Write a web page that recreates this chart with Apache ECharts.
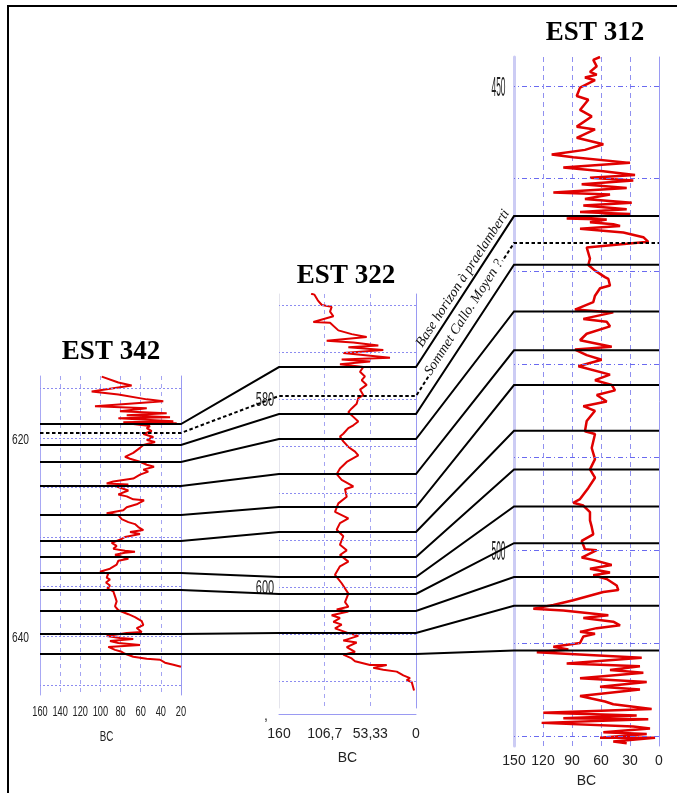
<!DOCTYPE html>
<html><head><meta charset="utf-8">
<script src="https://cdn.jsdelivr.net/npm/echarts@6/dist/echarts.min.js"></script>
<style>html,body{margin:0;padding:0;background:#fff}#c{width:677px;height:793px}</style>
</head><body><div id="c"></div>
<script>
// ---------- DATA ----------
const wellNames = ['EST 342', 'EST 322', 'EST 312'];

const bc342 = [98.7,82.2,69.0,108.7,82.2,54.0,37.6,105.4,54.0,80.6,34.2,73.9,30.9,82.2,27.6,77.3,24.3,67.4,50.8,54.0,49.1,57.4,47.5,54.0,45.8,57.4,60.7,67.4,75.6,70.6,60.7,54.0,46.8,57.4,52.5,60.7,67.4,87.2,93.8,72.3,83.9,72.3,82.2,73.9,67.4,56.7,64.0,73.9,77.3,93.8,82.2,78.9,72.3,65.7,62.4,57.4,70.6,60.7,75.6,78.9,88.8,83.9,87.2,75.6,65.7,75.6,85.5,72.3,82.2,83.9,90.5,100.4,92.2,93.8,90.5,94.5,90.5,93.2,87.2,85.5,83.9,85.5,82.2,72.3,65.7,59.0,57.4,64.0,59.0,73.9,93.8,80.6,67.4,90.5,82.2,60.7,92.2,85.5,78.9,75.6,67.4,54.0,40.8,35.9,27.6,20.0];
const depth342 = [613.8,614.4,614.7,615.3,615.6,616.1,616.3,616.8,617.0,617.3,617.5,617.7,617.9,618.0,618.3,618.4,618.5,618.6,618.8,619.0,619.3,619.6,619.9,620.2,620.4,620.7,621.0,621.5,621.9,622.1,622.4,622.7,622.9,623.2,623.4,623.7,624.1,624.4,624.6,624.7,624.9,625.3,625.7,625.9,626.2,626.3,626.7,627.0,627.3,627.6,627.8,628.2,628.5,628.7,629.0,629.3,629.5,629.7,630.0,630.2,630.6,630.9,631.2,631.4,631.5,631.6,631.8,632.2,632.4,632.8,633.2,633.5,633.7,634.1,634.3,634.6,634.9,635.2,635.5,636.0,636.5,637.0,637.4,637.8,638.1,638.5,638.9,639.2,639.6,639.7,640.0,640.2,640.3,640.5,640.7,640.9,641.1,641.4,641.6,641.8,642.1,642.3,642.4,642.7,642.9,643.1];

const bc322 = [122.5,118.6,114.7,110.0,98.5,100.4,96.5,119.9,100.4,90.7,75.1,57.6,104.3,73.2,44.0,79.0,38.2,84.9,30.4,86.8,53.7,88.8,61.5,65.4,59.6,63.4,57.6,65.4,61.5,67.4,69.3,75.1,79.0,73.2,67.4,73.2,79.0,84.9,88.8,84.9,79.0,71.2,67.4,65.4,80.9,88.8,92.6,86.8,73.2,82.9,80.9,90.7,94.6,79.0,88.8,92.6,84.9,88.8,80.9,88.8,79.0,88.8,94.6,86.8,79.0,82.9,79.0,92.6,79.0,98.5,88.8,96.5,86.8,94.6,79.0,67.4,84.9,69.3,80.9,71.2,84.9,75.1,71.2,53.7,34.2,49.9,38.2,22.5,14.8,7.0,10.9,5.0,2.3];
const depth322 = [568.8,568.9,569.5,570.0,570.2,570.7,571.2,571.8,571.9,572.7,573.1,573.4,573.8,574.0,574.3,574.5,574.8,575.1,575.6,575.8,576.0,576.3,576.6,577.1,577.6,578.0,578.5,579.0,579.6,579.9,580.5,581.0,581.4,581.9,582.4,582.8,583.1,583.7,584.0,584.5,585.1,585.6,586.0,586.2,586.7,587.4,588.0,588.6,589.3,589.6,590.4,591.1,592.0,592.7,593.2,593.9,594.6,595.5,596.1,596.6,597.3,597.8,598.7,599.6,600.7,601.6,602.1,602.4,602.6,603.0,603.3,603.7,604.0,604.4,604.9,605.2,605.7,605.9,606.4,606.9,607.2,607.6,607.9,608.3,608.3,608.6,608.8,609.0,609.4,609.7,609.9,610.1,611.0];

const bc312 = [61.0,68.0,64.4,71.4,64.4,76.6,66.2,81.7,85.1,73.1,81.7,69.6,85.1,66.2,85.1,57.6,76.6,111.0,88.7,30.0,99.0,57.6,24.8,71.4,26.6,80.0,33.4,109.3,50.7,76.6,28.2,78.3,33.4,81.7,30.0,95.5,54.1,71.4,47.3,40.3,81.7,36.9,16.2,11.1,33.4,74.8,71.4,73.1,66.2,55.9,52.4,50.7,61.0,66.2,68.0,86.9,47.3,78.3,54.1,50.7,74.8,81.7,48.9,86.9,74.8,59.3,83.4,50.7,66.2,48.9,45.5,64.4,54.1,78.3,66.2,74.8,76.6,66.2,69.6,66.2,71.4,66.2,73.1,81.7,88.7,78.3,71.4,71.4,69.6,68.0,80.0,76.6,64.4,80.0,66.2,48.9,71.4,50.7,68.0,54.1,43.8,42.1,57.6,88.7,109.3,130.0,99.0,52.4,78.3,47.3,40.3,64.4,81.7,66.2,78.3,81.7,109.3,93.8,126.4,17.9,95.5,19.7,50.7,16.2,81.7,12.7,61.0,19.7,81.7,55.9,47.3,7.6,119.7,23.1,99.0,11.1,121.4,26.6,9.3,57.6,12.7,61.0,4.1,47.3,33.4];
const depth312 = [446.9,447.2,447.9,448.5,448.8,449.1,449.4,450.2,451.1,451.5,452.6,453.3,454.4,454.7,455.6,456.3,456.9,457.4,457.7,458.3,458.8,459.2,459.6,459.9,460.2,460.6,461.0,461.5,461.7,462.2,462.6,462.9,463.3,463.6,463.8,464.3,464.4,464.7,464.9,465.1,465.4,465.8,466.3,466.8,467.0,467.4,468.6,469.3,469.9,470.6,470.8,471.5,471.8,472.6,473.3,474.1,474.4,475.1,475.4,475.9,476.7,477.4,478.1,478.4,479.0,479.5,480.2,481.1,481.7,482.2,482.8,483.3,484.0,484.5,485.0,486.1,487.2,487.5,489.0,490.2,491.3,492.2,493.3,494.5,494.9,495.2,495.9,496.8,497.5,498.3,499.0,499.9,500.0,500.8,501.1,501.6,502.0,502.4,502.7,503.1,503.8,504.3,504.5,505.4,505.9,506.3,506.5,507.0,507.3,507.7,508.1,508.4,508.8,509.0,509.3,510.0,510.4,510.7,511.0,511.6,512.2,512.5,512.9,513.2,513.8,514.2,514.7,515.0,515.7,516.3,516.6,517.1,517.5,517.8,518.1,518.2,518.6,519.0,519.2,519.6,519.8,520.2,520.2,520.6,520.8];

// correlation horizons (depth in each well)
const horizon342 = [618.59,619.49,620.71,622.42,624.85,627.78,630.40,632.02,633.64,635.35,637.47,639.80,641.82];
const horizon322 = [576.60,579.68,581.60,584.26,587.98,591.49,594.15,596.81,598.94,600.74,602.55,604.89,607.13];
const horizon312 = [464.03,466.92,469.27,474.30,478.48,482.23,487.15,491.33,495.29,499.25,502.89,506.00,510.82];
const horizonDashed = [false,true,false,false,false,false,false,false,false,false,false,false,false];
const horizonNames = ['Base horizon à praelamberti', 'Sommet Callo. Moyen ?'];

// axes / ticks
const depthRange342 = [613.74, 645.96];
const depthRange322 = [568.83, 612.87];
const depthRange312 = [446.90, 521.09];
const bcRange342 = [20, 160];
const bcRange322 = [0, 160];
const bcRange312 = [0, 150];
const ticks342 = [160, 140, 120, 100, 80, 60, 40, 20];
const tickLabels322 = ['0', '53,33', '106,7', '160'];
const depthGrid342 = [615,620,625,630,635,640,645];
const depthGrid322 = [570,575,580,585,590,595,600,605,610];
const depthGrid312 = [450,460,470,480,490,500,510,520];
const depthLabels342 = [620, 640];
const depthLabels322 = [580, 600];
const depthLabels312 = [450, 500];
const axisName = 'BC';

// ---------- CHART ----------
const chart = echarts.init(document.getElementById('c'), null, {renderer: 'canvas'});
const RED = '#e00000';
const pairs = (a, b) => a.map((v, i) => [v, b[i]]);

function yAx(g, range, pos, color, width) {
  return {gridIndex: g, type: 'value', inverse: true, min: range[0], max: range[1], position: pos,
    axisLine: {show: true, onZero: false, lineStyle: {color: color, width: width}},
    axisTick: {show: false}, axisLabel: {show: false}, splitLine: {show: false}};
}
function gridSeries(g, vals, style) {
  return {type: 'line', xAxisIndex: g, yAxisIndex: 2 * g, data: [], z: 1, silent: true, animation: false,
    markLine: {silent: true, symbol: ['none', 'none'], label: {show: false}, animation: false,
      lineStyle: style, emphasis: {disabled: true}, data: vals.map(v => ({yAxis: v}))}};
}
function curve(g, bc, depth, w) {
  return {type: 'line', xAxisIndex: g, yAxisIndex: 2 * g, data: pairs(bc, depth), showSymbol: false,
    symbol: 'none', sampling: null, z: 3, silent: true, animation: false,
    lineStyle: {color: RED, width: w}};
}
const nameStyle = {color: '#222', fontFamily: 'Liberation Sans', fontSize: 14};

const option = {
  backgroundColor: '#fff',
  animation: false,
  grid: [
    {left: 40, top: 376, width: 141, height: 319},
    {left: 279, top: 294, width: 137, height: 414},
    {left: 514, top: 57, width: 145, height: 693}
  ],
  xAxis: [
    {gridIndex: 0, type: 'value', inverse: true, min: bcRange342[0], max: bcRange342[1], interval: 20,
      axisLine: {show: false, onZero: false}, axisTick: {show: false}, axisLabel: {show: false},
      splitLine: {show: true, showMinLine: false, showMaxLine: false, lineStyle: {color: '#a4a4f2', type: [4, 4]}}},
    {gridIndex: 1, type: 'value', inverse: true, min: bcRange322[0], max: bcRange322[1], interval: 160 / 3, offset: 6,
      axisLine: {show: true, onZero: false, lineStyle: {color: '#9a9af2'}}, axisTick: {show: false},
      axisLabel: {margin: 13, fontSize: 14, color: '#222', fontFamily: 'Liberation Sans',
        formatter: v => tickLabels322[Math.round(v / (160 / 3))]},
      splitLine: {show: true, showMinLine: false, showMaxLine: false, lineStyle: {color: '#a4a4f2', type: [4, 4]}},
      name: axisName, nameLocation: 'middle', nameGap: 37, nameTextStyle: nameStyle},
    {gridIndex: 2, type: 'value', inverse: true, min: bcRange312[0], max: bcRange312[1], interval: 30,
      axisLine: {show: false, onZero: false}, axisTick: {show: false},
      axisLabel: {margin: 8, fontSize: 14, color: '#222', fontFamily: 'Liberation Sans'},
      splitLine: {show: true, showMinLine: false, showMaxLine: false, lineStyle: {color: '#9090f0', type: [5, 4]}},
      name: axisName, nameLocation: 'middle', nameGap: 28, nameTextStyle: nameStyle}
  ],
  yAxis: [
    yAx(0, depthRange342, 'left', '#a8a8f4', 1), yAx(0, depthRange342, 'right', '#9a9af2', 1),
    yAx(1, depthRange322, 'left', '#e4e4ec', 1), yAx(1, depthRange322, 'right', '#9a9af2', 1),
    yAx(2, depthRange312, 'left', '#ccccf4', 3), yAx(2, depthRange312, 'right', '#9a9af2', 1)
  ],
  series: [
    curve(0, bc342, depth342, 2),
    curve(1, bc322, depth322, 2),
    curve(2, bc312, depth312, 2.5),
    gridSeries(0, depthGrid342, {color: '#8c8cf0', type: [2, 2], width: 1}),
    gridSeries(1, depthGrid322, {color: '#8c8cf0', type: [2, 2], width: 1}),
    gridSeries(2, depthGrid312, {color: '#6a6af0', type: [5, 3, 1, 3], width: 1})
  ]
};
chart.setOption(option);

// ---------- OVERLAYS (positions from the library's scales) ----------
const P = (s, x, y) => chart.convertToPixel({seriesIndex: s}, [x, y]);
const G = [];
// frame
G.push({type: 'line', shape: {x1: 7, y1: 6, x2: 677, y2: 6}, style: {stroke: '#000', lineWidth: 2}, z: 200});
G.push({type: 'line', shape: {x1: 8, y1: 5, x2: 8, y2: 793}, style: {stroke: '#000', lineWidth: 2}, z: 200});

// horizons
horizon342.forEach((d, i) => {
  const pts = [
    P(0, bcRange342[1], d), P(0, bcRange342[0], d),
    P(1, bcRange322[1], horizon322[i]), P(1, bcRange322[0], horizon322[i]),
    P(2, bcRange312[1], horizon312[i]), P(2, bcRange312[0], horizon312[i])
  ];
  G.push({type: 'polyline', shape: {points: pts}, silent: true, z: 100,
    style: {stroke: '#000', fill: null, lineWidth: 2, lineDash: horizonDashed[i] ? [3.5, 2.5] : null}});
});

// annotations along connectors
function along(i, t, off) {
  const a = P(1, bcRange322[0], horizon322[i]);
  const b = P(2, bcRange312[1], horizon312[i]);
  const dx = b[0] - a[0], dy = b[1] - a[1], L = Math.hypot(dx, dy);
  const ux = dx / L, uy = dy / L;
  const nx = uy, ny = -ux;
  return {x: a[0] + ux * t + nx * off, y: a[1] + uy * t + ny * off, rot: Math.atan2(-uy, ux)};
}
const t0 = along(0, 100, 9);
G.push({type: 'text', x: t0.x, y: t0.y, rotation: t0.rot, z: 120, silent: true,
  style: {text: horizonNames[0], fontFamily: 'Liberation Serif', fontStyle: 'italic', fontSize: 14, fill: '#111', align: 'center', verticalAlign: 'middle'}});
const t1 = along(1, 92, 2);
G.push({type: 'text', x: t1.x, y: t1.y, rotation: t1.rot, z: 120, silent: true,
  style: {text: horizonNames[1], fontFamily: 'Liberation Serif', fontStyle: 'italic', fontSize: 14, fill: '#111', align: 'center', verticalAlign: 'middle', backgroundColor: '#fff', padding: [0, 1]}});

// titles
const titlePos = [[111, 352], [346, 276], [595, 33]];
wellNames.forEach((n, i) => G.push({type: 'text', x: titlePos[i][0], y: titlePos[i][1], z: 120, silent: true,
  style: {text: n, fontFamily: 'Liberation Serif', fontWeight: 'bold', fontSize: 27, fill: '#000', align: 'center', verticalAlign: 'middle'}}));

// narrow axis labels for EST 342 (x positions from its BC scale)
ticks342.forEach(v => {
  const p = P(0, v, depthRange342[1]);
  G.push({type: 'text', x: p[0], y: p[1] + 17, scaleX: 0.66, z: 50, silent: true,
    style: {text: String(v), fontFamily: 'Liberation Sans', fontSize: 14, fill: '#222', align: 'center', verticalAlign: 'middle'}});
});
{
  const a = P(0, bcRange342[1], depthRange342[1]), b = P(0, bcRange342[0], depthRange342[1]);
  G.push({type: 'text', x: (a[0] + b[0]) / 2 - 4, y: a[1] + 42, scaleX: 0.7, z: 50, silent: true,
    style: {text: axisName, fontFamily: 'Liberation Sans', fontSize: 14, fill: '#222', align: 'center', verticalAlign: 'middle'}});
}

// depth labels
function depthLabel(s, xv, d, dxp, dyp, fs, sx) {
  const p = P(s, xv, d);
  G.push({type: 'text', x: p[0] + dxp, y: p[1] + dyp, scaleX: sx, z: 50, silent: true,
    style: {text: String(d), fontFamily: 'Liberation Sans', fontSize: fs, fill: '#222', align: 'center', verticalAlign: 'middle'}});
}
depthLabels342.forEach(d => depthLabel(0, bcRange342[1], d, -19.5, 2, 15, 0.68));
depthLabels322.forEach(d => depthLabel(1, bcRange322[1], d, -14, 1, 20, 0.55));
depthLabels312.forEach(d => depthLabel(2, bcRange312[1], d, -15.5, 2, 28, 0.3));

// stray comma under EST 322 axis
const pc = P(1, bcRange322[1], depthRange322[1]);
G.push({type: 'text', x: pc[0] - 13, y: pc[1] + 8, z: 50, silent: true,
  style: {text: ',', fontFamily: 'Liberation Sans', fontSize: 14, fill: '#222', align: 'center', verticalAlign: 'middle'}});

chart.setOption({graphic: G});
</script></body></html>
